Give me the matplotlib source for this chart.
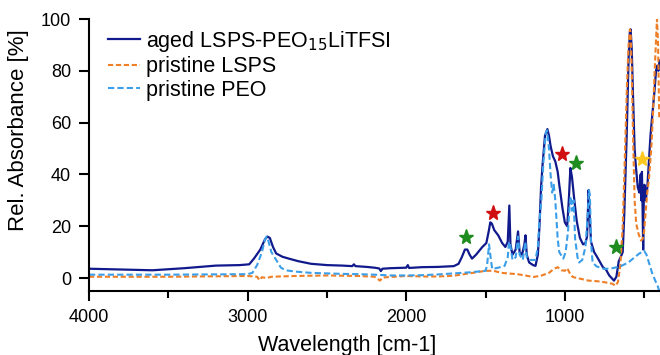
import matplotlib
matplotlib.use("Agg")
import matplotlib.pyplot as plt

plt.rcParams['font.family'] = ['Liberation Sans', 'DejaVu Sans']

# aged LSPS-PEO15LiTFSI
wn_aged = [4000, 3800, 3600, 3400, 3200, 3050, 2990, 2960, 2920, 2890, 2875, 2860,
           2840, 2820, 2780, 2740, 2680, 2600, 2500, 2400, 2340, 2330, 2320, 2250,
           2200, 2170, 2160, 2150, 2100, 2050, 2000, 1990, 1982, 1900, 1800, 1700,
           1670, 1650, 1630, 1615, 1600, 1585, 1560, 1520, 1495, 1480, 1470, 1460,
           1445, 1420, 1395, 1375, 1360, 1350, 1343, 1330, 1310, 1295, 1285, 1270,
           1255, 1248, 1240, 1225, 1200, 1185, 1170, 1160, 1150, 1140, 1125, 1110,
           1100, 1090, 1075, 1060, 1045, 1035, 1015, 1000, 985, 975, 965, 955, 940,
           925, 905, 885, 870, 860, 850, 843, 835, 815, 800, 760, 740, 720, 690,
           675, 660, 645, 635, 625, 610, 598, 590, 585, 578, 570, 560, 552, 540,
           530, 522, 518, 514, 510, 506, 502, 498, 490, 480, 472, 460, 450, 435,
           425, 418, 410, 403]
abs_aged = [3.6, 3.3, 3.0, 3.8, 4.8, 5.0, 5.3, 7.5, 11, 15, 16, 15.5,
            12, 9.5, 8.2, 7.5, 6.5, 5.5, 5.0, 4.8, 4.6, 5.3, 4.6, 4.3,
            4.0, 3.7, 2.7, 3.6, 3.8, 3.9, 4.0, 5.0, 3.9, 4.2, 4.3, 4.6,
            5.5, 8, 11, 11, 9, 7.5, 9, 12, 13.5, 18, 21.5, 21,
            18.5, 16.5, 13.5, 12, 14, 28, 13, 9, 11, 18, 10, 9,
            13, 16.5, 9, 6, 5, 4.7, 9, 20, 35, 44, 55, 57.5,
            55, 51, 47, 45, 41, 36, 27, 21.5, 20, 30, 42.5, 39, 30,
            22, 15.5, 13, 13.5, 16, 34, 24, 14, 10, 8.5, 4.2, 3.2, 1.0, -1.0,
            0.5, 6.5, 8.5, 10, 25, 55, 85, 95, 96, 88, 70, 50, 43, 35,
            33, 40, 30, 41, 28, 11, 32, 36, 30, 35, 43, 55, 62, 72,
            80, 82, 80, 84]

# pristine LSPS
wn_lsps = [4000, 3500, 3000, 2940, 2925, 2910, 2880, 2850, 2700, 2500, 2300, 2200,
           2165, 2150, 2050, 2000, 1900, 1800, 1700, 1600, 1500, 1450, 1400, 1300,
           1250, 1200, 1150, 1100, 1070, 1045, 1020, 1000, 985, 970, 950, 900, 850,
           800, 750, 700, 680, 665, 650, 635, 620, 608, 598, 590, 585, 578, 570,
           560, 550, 535, 520, 510, 500, 490, 480, 470, 455, 445, 435, 425, 419,
           412, 405]
abs_lsps = [0.5, 0.5, 0.8, 0.5, -0.8, 0.3, 0.0, 0.5, 0.8, 1.0, 0.8, 0.5,
            -1.0, 0.2, 0.6, 0.8, 0.6, 0.6, 0.9, 1.8, 2.8, 2.8, 2.0, 1.5,
            1.0, 0.4, 0.9, 2.0, 3.5, 4.2, 3.0, 2.8, 3.8, 2.0, 0.4, -0.3, -1.0,
            -1.2, -1.6, -2.2, -3.0, -1.5, 5, 20, 50, 75, 90, 96, 95, 80, 55,
            30, 21, 17, 14.5, 15, 18, 26, 33, 38, 50, 62, 78, 92, 100,
            90, 62]

# pristine PEO
wn_peo = [4000, 3500, 3000, 2970, 2940, 2910, 2890, 2880, 2870, 2850, 2820, 2790,
          2760, 2700, 2600, 2400, 2300, 2200, 2100, 2000, 1900, 1800, 1700, 1600,
          1500, 1490, 1478, 1468, 1458, 1420, 1380, 1360, 1352, 1342, 1330, 1310,
          1295, 1285, 1265, 1249, 1240, 1220, 1200, 1185, 1170, 1160, 1148, 1135,
          1120, 1112, 1100, 1090, 1080, 1070, 1060, 1045, 1035, 1010, 995, 980,
          970, 963, 955, 945, 935, 920, 910, 890, 870, 855, 848, 842, 835, 825,
          800, 750, 700, 650, 600, 560, 530, 500, 485, 470, 450, 430, 415, 400]
abs_peo = [1.3, 1.3, 1.5, 2, 5, 10, 15, 16, 14.5, 10, 7, 4,
           3, 2.5, 2, 1.6, 1.5, 1.3, 1.0, 1.0, 1.1, 1.4, 1.8, 2.2,
           2.8, 5, 13, 8, 3.5, 4, 4.7, 8, 14, 12, 7, 8,
           16, 9, 7, 14, 8, 7, 7, 7, 12, 22, 30, 45,
           56, 57, 50, 40, 33, 36, 30, 15, 10, 7.5, 10, 18,
           28, 31.5, 26, 30, 15, 8, 6, 7, 12, 25, 34, 32, 14, 6,
           4.5, 3.5, 3.8, 4.5, 6, 8, 9.5, 10.5, 9, 6, 2, -1, -3, -6]

# star annotations
star_x = [1625, 1450, 1020, 928, 680, 512]
star_y = [16, 25, 47.7, 44.5, 11.8, 45.8]
star_c = ['#1e8c1e', '#d01010', '#d01010', '#1e8c1e', '#1e8c1e', '#ffc820']

fig = plt.figure(figsize=(6.6, 3.55), dpi=100)
ax = fig.add_axes([89 / 660, 64 / 355, 571 / 660, 272 / 355])

ax.plot(wn_aged, abs_aged, color='#101a8c', lw=1.6, label='aged LSPS-PEO$_{15}$LiTFSI')
ax.plot(wn_lsps, abs_lsps, color='#ef7f26', lw=1.5, linestyle=(0, (2.5, 1.3)),
        label='pristine LSPS')
ax.plot(wn_peo, abs_peo, color='#3a9ee8', lw=1.5, linestyle=(0, (3, 1.5)),
        label='pristine PEO')
for sx, sy, sc in zip(star_x, star_y, star_c):
    ax.plot(sx, sy, marker='*', color=sc, markersize=11, linestyle='none', zorder=5)

ax.set_xlim(4000, 400)
ax.set_ylim(-5, 100)
ax.set_xticks([4000, 3000, 2000, 1000])
ax.set_xticks([3500, 2500, 1500, 500], minor=True)
ax.set_yticks([0, 20, 40, 60, 80, 100])

for s in ['top', 'right']:
    ax.spines[s].set_visible(False)
for s in ['left', 'bottom']:
    ax.spines[s].set_linewidth(1.5)
ax.tick_params(which='major', length=7, width=1.5, labelsize=13, pad=6)
ax.tick_params(which='minor', length=5, width=1.5)

ax.set_xlabel('Wavelength [cm-1]', fontsize=15.5)
ax.set_ylabel('Rel. Absorbance [%]', fontsize=16)
ax.xaxis.set_label_coords(0.452, -0.16)
ax.yaxis.set_label_coords(-0.105, 0.592)

ax.legend(loc='upper left', frameon=False, fontsize=15.5, handlelength=1.45,
          handletextpad=0.3, bbox_to_anchor=(0.0, 1.035), borderaxespad=0.5,
          labelspacing=0.12)

fig.savefig('out.png', dpi=100)
